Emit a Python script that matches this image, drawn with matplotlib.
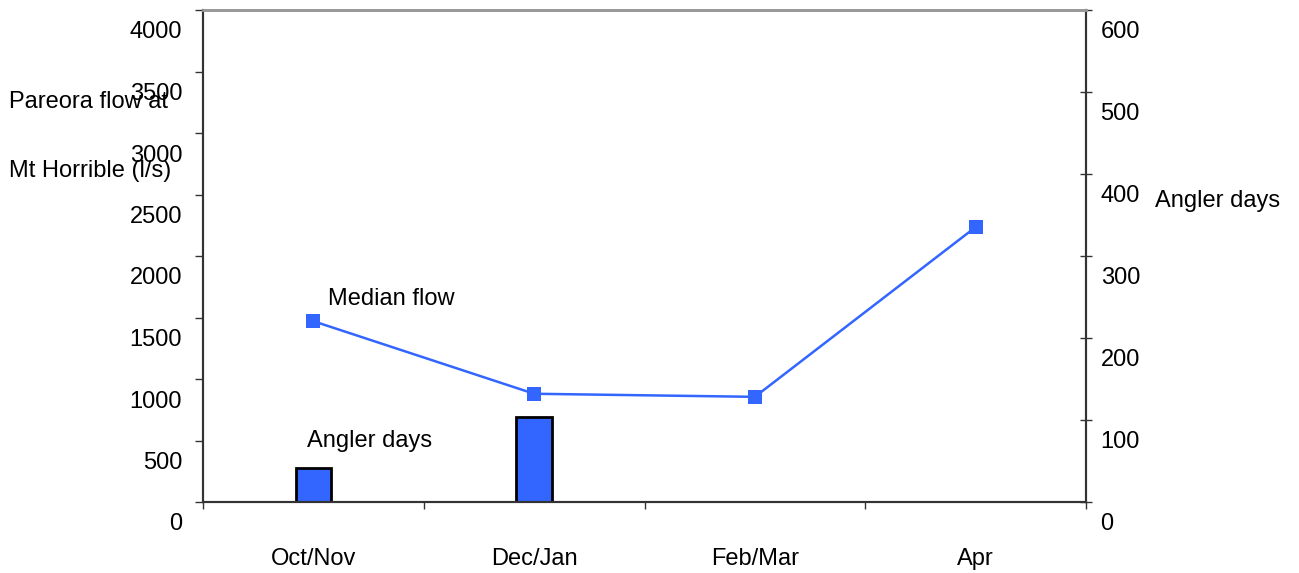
import matplotlib
matplotlib.use('Agg')
import matplotlib.pyplot as plt
import matplotlib.transforms as mtransforms

plt.rcParams['font.family'] = ['Liberation Sans', 'DejaVu Sans']

periods = ['Oct/Nov', 'Dec/Jan', 'Feb/Mar', 'Apr']
median_flow = [1470, 880, 855, 2235]     # l/s, left axis
angler_days = [42, 104, 0, 0]            # right axis
flow_ticks = [0, 500, 1000, 1500, 2000, 2500, 3000, 3500, 4000]
day_ticks = [0, 100, 200, 300, 400, 500, 600]

blue = '#3366ff'
fs = 17

fig = plt.figure(figsize=(12.99, 5.73), dpi=100)
ax = fig.add_axes([203 / 1299, 1 - 502 / 573, 883 / 1299, 492 / 573])
ax2 = ax.twinx()

x = list(range(len(periods)))

# angler days as bars on the right scale
ax2.bar(x[:2], angler_days[:2], width=0.16, color=blue, edgecolor='black',
        linewidth=2, zorder=2)
ax2.set_ylim(0, 600)
ax2.set_yticks(day_ticks)

# median flow line on the left scale
ax.plot(x, median_flow, color=blue, lw=1.8, marker='s', ms=10.5,
        markeredgewidth=0, zorder=3)
ax.set_ylim(0, 4000)
ax.set_yticks(flow_ticks)
ax.set_xlim(-0.5, 3.5)
ax.set_zorder(ax2.get_zorder() + 1)
ax.patch.set_visible(False)

# category labels between the boundary ticks
ax.set_xticks([-0.5, 0.5, 1.5, 2.5, 3.5])
ax.set_xticklabels([])
ax.set_xticks(x, minor=True)
ax.set_xticklabels(periods, minor=True, fontsize=fs)
ax.tick_params(axis='x', which='major', direction='out', length=5, width=1,
               color='#333333')
ax.tick_params(axis='x', which='minor', length=0, pad=33)

ax.tick_params(axis='y', direction='out', length=6, width=1, color='#333333',
               labelsize=fs, pad=9)
ax2.tick_params(axis='y', direction='inout', length=9, width=1,
                color='#333333', labelsize=fs, pad=6)

# y tick labels sit a little below their ticks
shift = mtransforms.ScaledTranslation(0, -20 / 100, fig.dpi_scale_trans)
for lab in ax.get_yticklabels() + ax2.get_yticklabels():
    lab.set_transform(lab.get_transform() + shift)

for a in (ax, ax2):
    a.spines['top'].set_color('#999999')
    a.spines['top'].set_linewidth(2)
    for s in ('left', 'right', 'bottom'):
        a.spines[s].set_color('#333333')
        a.spines[s].set_linewidth(1.5)

ax.text(0.066, 1650, 'Median flow', fontsize=fs, va='center', ha='left')
ax.text(-0.03, 500, 'Angler days', fontsize=fs, va='center', ha='left')

fig.text(9 / 1299, 1 - 102 / 573, 'Pareora flow at', fontsize=fs,
         va='center', ha='left')
fig.text(9 / 1299, 1 - 171 / 573, 'Mt Horrible (l/s)', fontsize=fs,
         va='center', ha='left')
fig.text(1155 / 1299, 1 - 201 / 573, 'Angler days', fontsize=fs,
         va='center', ha='left')

fig.savefig('out.png', dpi=100, facecolor='white')
